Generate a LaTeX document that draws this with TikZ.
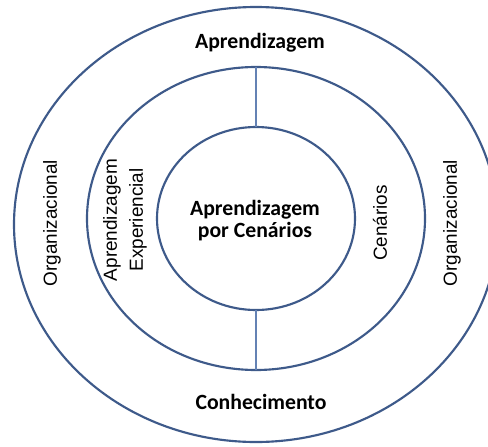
\documentclass[tikz,border=0pt]{standalone}
\usepackage{fontspec}
\newfontfamily\calibrif{Carlito}
\newfontfamily\arialf{Liberation Sans}
\usetikzlibrary{shapes.geometric}
\definecolor{ringblue}{RGB}{62,90,138}
\definecolor{lineblue}{RGB}{100,130,180}
\begin{document}
\begin{tikzpicture}[x=0.75pt,y=-0.75pt,
  ring/.style={ellipse,draw=ringblue,line width=1.6pt,inner sep=0pt,outer sep=0pt},
  divider/.style={draw=lineblue,line width=0.8pt},
  boldlab/.style={font=\calibrif\bfseries\fontsize{16.3}{16.5}\selectfont,align=center,inner sep=0pt},
  sidelab/.style={font=\arialf\fontsize{14.2}{19.5}\selectfont,align=center,rotate=90,inner sep=0pt}]
\useasboundingbox (0,0) rectangle (488,446);
\fill[white] (0,0) rectangle (488,446);
\node[ring,minimum width=363pt,minimum height=326.25pt] (outer) at (256,224.5) {};
\node[ring,minimum width=253.5pt,minimum height=227.25pt] (middle) at (256,218.5) {};
\node[ring,minimum width=148.5pt,minimum height=137.25pt] (inner) at (256,218.5) {};
\draw[divider] (middle.north) -- (inner.north);
\draw[divider] (inner.south) -- (middle.south);
\node[boldlab] (top) at (260,43) {Aprendizagem};
\node[boldlab] (bottom) at (261,402) {Conhecimento};
\node[boldlab] (center) at (255,221) {Aprendizagem\\por Cenários};
\node[sidelab] (orgl) at (52,223) {Organizacional};
\node[sidelab] (exp) at (125,220) {Aprendizagem\\Experiencial};
\node[sidelab] (cen) at (380,223) {Cenários};
\node[sidelab] (orgr) at (452,223) {Organizacional};
\end{tikzpicture}
\end{document}
